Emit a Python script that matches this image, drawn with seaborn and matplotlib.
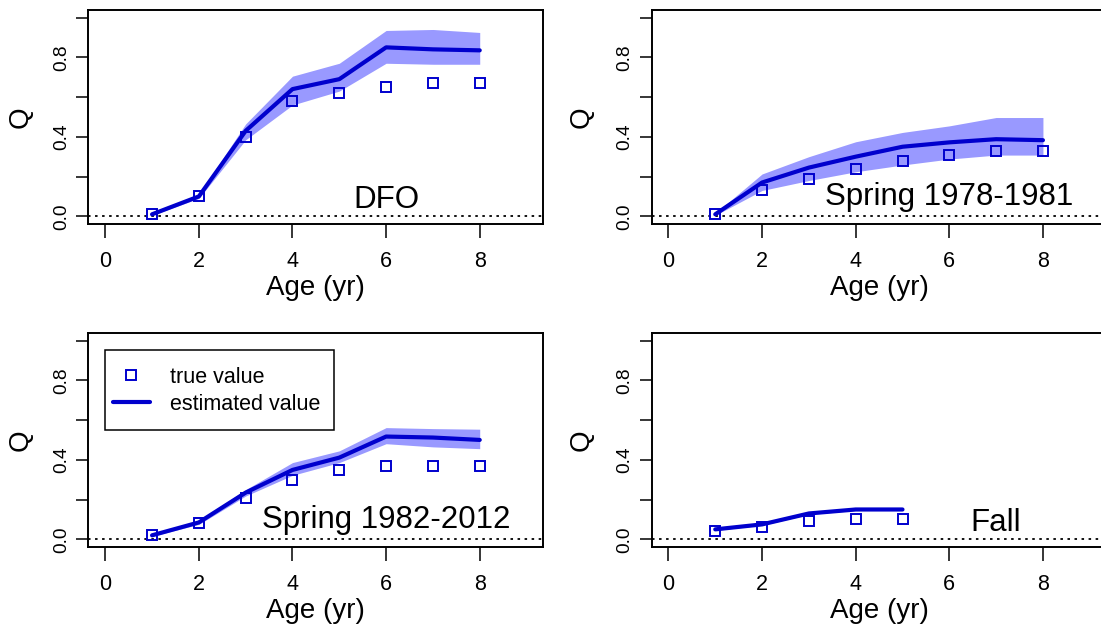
import numpy as np
import pandas as pd
import matplotlib
matplotlib.use("Agg")
import matplotlib.pyplot as plt
from matplotlib.patches import Rectangle
import seaborn as sns

# ---- data -------------------------------------------------------------
ages = [1, 2, 3, 4, 5, 6, 7, 8]
fall_ages = [1, 2, 3, 4, 5]

dfo_true = [0.01, 0.10, 0.40, 0.58, 0.62, 0.65, 0.67, 0.67]
dfo_est = [0.01, 0.10, 0.43, 0.64, 0.69, 0.85, 0.84, 0.835]
dfo_lo = [0.005, 0.09, 0.385, 0.56, 0.63, 0.77, 0.765, 0.765]
dfo_hi = [0.015, 0.11, 0.465, 0.705, 0.77, 0.935, 0.94, 0.925]

spr78_true = [0.01, 0.13, 0.19, 0.24, 0.28, 0.31, 0.33, 0.33]
spr78_est = [0.01, 0.17, 0.245, 0.30, 0.35, 0.372, 0.388, 0.383]
spr78_lo = [0.005, 0.13, 0.18, 0.224, 0.258, 0.288, 0.308, 0.308]
spr78_hi = [0.015, 0.213, 0.30, 0.375, 0.422, 0.455, 0.497, 0.497]

spr82_true = [0.02, 0.08, 0.21, 0.30, 0.35, 0.37, 0.37, 0.37]
spr82_est = [0.02, 0.085, 0.235, 0.349, 0.411, 0.517, 0.512, 0.50]
spr82_lo = [0.015, 0.075, 0.218, 0.322, 0.386, 0.481, 0.465, 0.456]
spr82_hi = [0.025, 0.095, 0.25, 0.386, 0.445, 0.562, 0.557, 0.554]

fall_true = [0.04, 0.06, 0.09, 0.10, 0.10]
fall_est = [0.05, 0.075, 0.13, 0.15, 0.15]
fall_lo = [0.045, 0.07, 0.125, 0.145, 0.145]
fall_hi = [0.055, 0.08, 0.135, 0.155, 0.155]

panel_names = ["DFO", "Spring 1978-1981", "Spring 1982-2012", "Fall"]

x_ticks = [0, 2, 4, 6, 8]
y_ticks = [0.0, 0.2, 0.4, 0.6, 0.8, 1.0]
y_ticklabels = ["0.0", "", "0.4", "", "0.8", ""]

# ---- style ------------------------------------------------------------
sns.set_style("white")
plt.rcParams["font.family"] = ["Liberation Sans", "DejaVu Sans"]
plt.rcParams["text.color"] = "black"
plt.rcParams["axes.labelcolor"] = "black"
plt.rcParams["xtick.color"] = "black"
plt.rcParams["ytick.color"] = "black"

LINE = "#0000CD"
BAND = (0.0, 0.0, 1.0, 0.4)

W, H = 1101, 631
fig = plt.figure(figsize=(W / 100, H / 100), dpi=100)


def box(left, top, right, bottom):
    return [left / W, (H - bottom) / H, (right - left) / W, (bottom - top) / H]


# right-hand panels run past the right edge of the canvas
ax_tl = fig.add_axes(box(88.4, 9.6, 543.4, 224.25))
ax_tr = fig.add_axes(box(651.6, 9.6, 1106.6, 224.25))
ax_bl = fig.add_axes(box(88.4, 332.6, 543.4, 547.25))
ax_br = fig.add_axes(box(651.6, 332.6, 1106.6, 547.25))
axes = [ax_tl, ax_tr, ax_bl, ax_br]

series = [
    (ages, dfo_true, dfo_est, dfo_lo, dfo_hi),
    (ages, spr78_true, spr78_est, spr78_lo, spr78_hi),
    (ages, spr82_true, spr82_est, spr82_lo, spr82_hi),
    (fall_ages, fall_true, fall_est, fall_lo, fall_hi),
]

# panel-name placement (x centre, baseline) in data units
name_pos = [(6, 0.040), (6, 0.057), (6, 0.058), (7, 0.042)]

for i, (ax, (x, tv, est, lo, hi)) in enumerate(zip(axes, series)):
    df = pd.DataFrame({"age": x, "true": tv, "est": est, "lo": lo, "hi": hi})
    ax.fill_between(df["age"], df["lo"], df["hi"], color=BAND, lw=0, zorder=1)
    ax.axhline(0, color="black", lw=1.3, ls=(0, (1.4, 2.5)), zorder=2)
    sns.lineplot(data=df, x="age", y="est", ax=ax, color=LINE, lw=3.0,
                 errorbar=None, zorder=3)
    sns.lineplot(data=df, x="age", y="true", ax=ax, color=LINE, ls="",
                 marker="s", ms=7.2, mfc="none", mec=LINE, mew=1.4,
                 errorbar=None, zorder=4)

    ax.set_xlim(-0.36, 9.36)
    ax.set_ylim(-0.04, 1.04)
    ax.set_xticks(x_ticks)
    ax.set_xticklabels([str(t) for t in x_ticks], fontsize=15.5)
    ax.set_yticks(y_ticks)
    ax.set_yticklabels(y_ticklabels, rotation=90, va="center", fontsize=13.8)
    ax.tick_params(axis="x", direction="out", length=10.3, width=1.1, pad=9.0,
                   bottom=True)
    ax.tick_params(axis="y", direction="out", length=9, width=1.1, pad=4.1,
                   left=True)
    for sp in ax.spines.values():
        sp.set_color("black")
        sp.set_linewidth(1.4)

    ax.set_xlabel("Age (yr)", fontsize=20)
    ax.set_ylabel("Q", fontsize=20)
    ax.xaxis.label.set_va("center")
    ax.yaxis.label.set_va("center")
    ax.xaxis.set_label_coords(0.5, -0.297)
    ax.yaxis.set_label_coords(-0.148 if i in (0, 2) else -0.153, 0.5)

    nx, ny = name_pos[i]
    ax.text(nx, ny, panel_names[i], fontsize=22.5,
            ha="center", va="baseline", zorder=5)

# legend in the lower-left panel
est_line, true_line = ax_bl.lines[1], ax_bl.lines[2]
ax_bl.legend([true_line, est_line], ["true value", "estimated value"],
             loc="center left", bbox_to_anchor=(0.053, 0.7286),
             fontsize=15.5, frameon=False, borderpad=0, borderaxespad=0,
             labelspacing=0.27, handlelength=1.74, handletextpad=0.94)
ax_bl.add_patch(Rectangle((0.0354, 0.5448), 0.505, 0.3727,
                          transform=ax_bl.transAxes, fill=False,
                          edgecolor="black", lw=1.1, zorder=6))

fig.savefig("out.png", dpi=100)
